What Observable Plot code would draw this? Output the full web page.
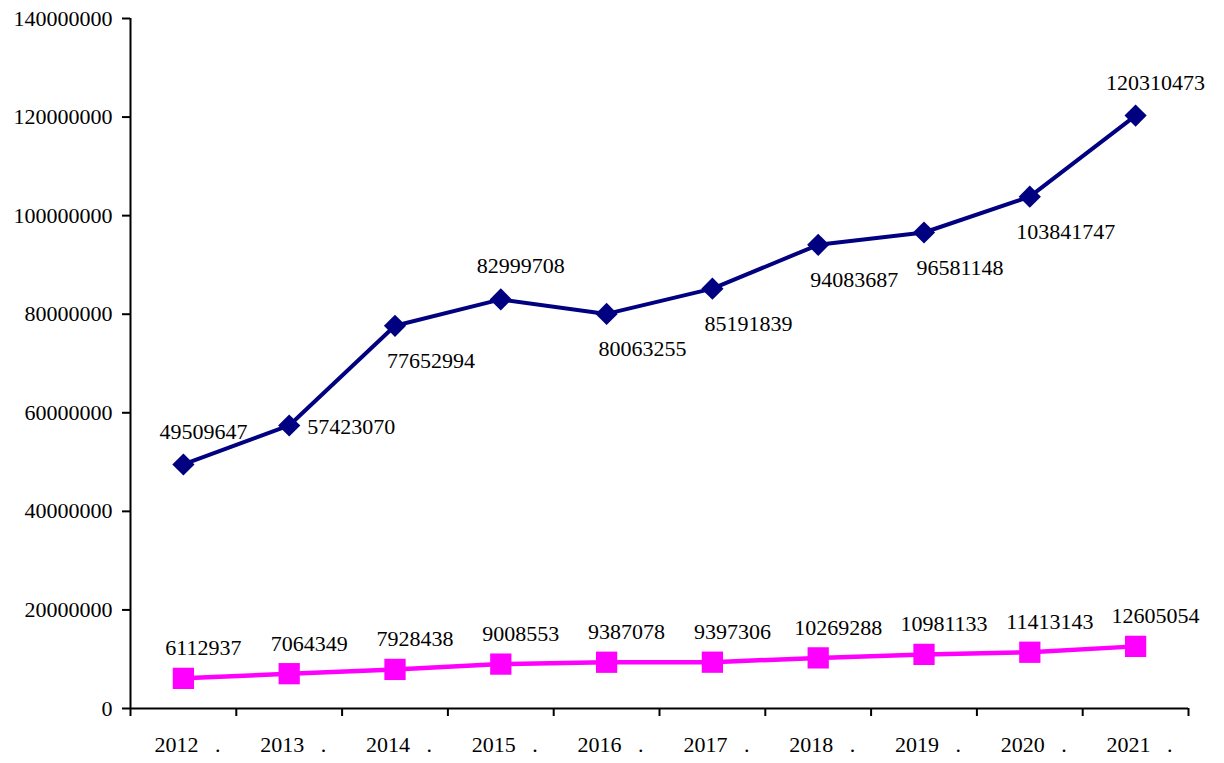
<!DOCTYPE html>
<html>
<head>
<meta charset="utf-8">
<script src="https://cdn.jsdelivr.net/npm/d3@7"></script>
<script src="https://cdn.jsdelivr.net/npm/@observablehq/plot@0.6"></script>
<style>
  html, body { margin: 0; padding: 0; background: #fff; }
</style>
</head>
<body>
<div id="chart"></div>
<script>
const years = [2012, 2013, 2014, 2015, 2016, 2017, 2018, 2019, 2020, 2021];
const seriesTop = [49509647, 57423070, 77652994, 82999708, 80063255, 85191839, 94083687, 96581148, 103841747, 120310473];
const seriesBottom = [6112937, 7064349, 7928438, 9008553, 9387078, 9397306, 10269288, 10981133, 11413143, 12605054];
const yTicks = [0, 20000000, 40000000, 60000000, 80000000, 100000000, 120000000, 140000000];
// label placement for the upper series (as in the reference)
const topPlacement = ["above", "right", "below", "above", "below", "below", "below", "below", "below", "above"];

const upperData = years.map((y, i) => ({year: y, value: seriesTop[i], place: topPlacement[i]}));
const lowerData = years.map((y, i) => ({year: y, value: seriesBottom[i]}));
const boundaries = d3.range(years.length + 1).map(i => years[0] - 0.5 + i);

const navy = "#000080", pink = "#FF00FF";
const labelText = d => String(d.value);

const chart = Plot.plot({
  width: 1224,
  height: 763,
  marginLeft: 130,
  marginRight: 36,
  marginTop: 18,
  marginBottom: 55,
  style: {fontFamily: "'Liberation Serif', 'Times New Roman', serif", fontSize: "22px", color: "black", background: "white"},
  x: {domain: [years[0] - 0.5, years[years.length - 1] + 0.5]},
  y: {domain: [0, 140000000]},
  marks: [
    Plot.axisY({ticks: yTicks, tickFormat: d3.format("d"), tickSize: 8, tickPadding: 10, strokeWidth: 2, label: null}),
    Plot.axisX({ticks: boundaries, tickFormat: () => "", tickSize: 8, strokeWidth: 2, label: null}),
    Plot.axisX({ticks: years, tickFormat: d => d + "\u00a0\u00a0\u00a0.", tickSize: 0, tickPadding: 28, dx: 4, label: null}),
    Plot.ruleX([years[0] - 0.5], {stroke: "black", strokeWidth: 2}),
    Plot.ruleY([0], {stroke: "black", strokeWidth: 2}),
    Plot.line(lowerData, {x: "year", y: "value", stroke: pink, strokeWidth: 4.5}),
    Plot.dot(lowerData, {x: "year", y: "value", symbol: "square", r: 12, fill: pink, stroke: "none"}),
    Plot.line(upperData, {x: "year", y: "value", stroke: navy, strokeWidth: 4}),
    Plot.dot(upperData, {x: "year", y: "value", symbol: "diamond2", r: 10, fill: navy, stroke: "none"}),
    Plot.text(lowerData, {x: "year", y: "value", text: labelText, dx: 20, dy: -30, fill: "black"}),
    Plot.text(upperData.filter(d => d.place === "above"), {x: "year", y: "value", text: labelText, dx: 20, dy: -33, fill: "black"}),
    Plot.text(upperData.filter(d => d.place === "below"), {x: "year", y: "value", text: labelText, dx: 36, dy: 35, fill: "black"}),
    Plot.text(upperData.filter(d => d.place === "right"), {x: "year", y: "value", text: labelText, dx: 18, dy: 1, textAnchor: "start", fill: "black"})
  ]
});
document.getElementById("chart").appendChild(chart);
</script>
</body>
</html>
